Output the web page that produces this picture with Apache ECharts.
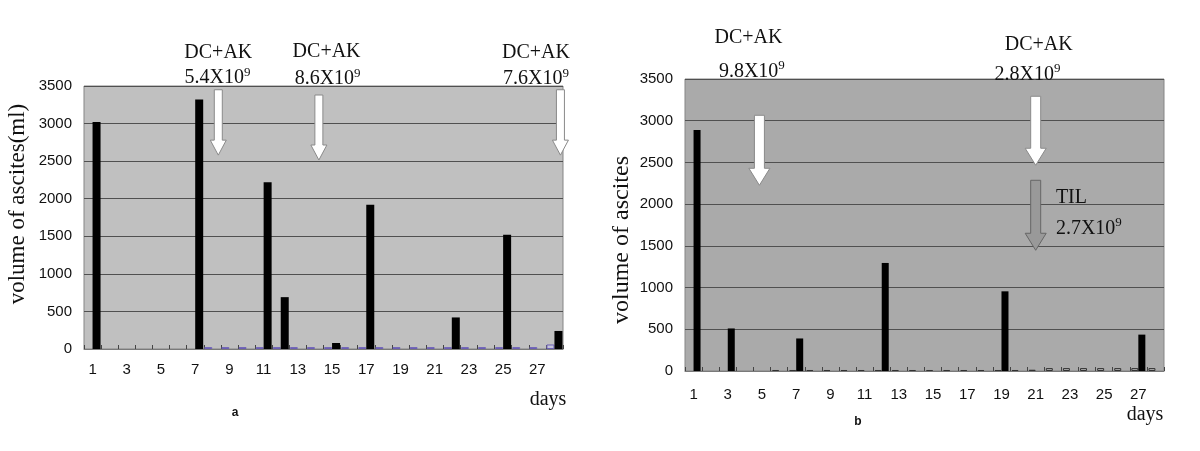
<!DOCTYPE html>
<html><head><meta charset="utf-8">
<script src="https://cdn.jsdelivr.net/npm/echarts@6/dist/echarts.min.js"></script>
<style>html,body{margin:0;padding:0;background:#fff}#c{width:1200px;height:451px}</style>
</head><body><div id="c"></div>
<script>
// ---------- data ----------
const days = ['1','2','3','4','5','6','7','8','9','10','11','12','13','14','15','16','17','18','19','20','21','22','23','24','25','26','27','28'];
const yTicks = [0, 500, 1000, 1500, 2000, 2500, 3000, 3500];

// chart a
const aVolume = [3020,0,0,0,0,0,3320,0,0,0,2220,690,0,0,80,0,1920,0,0,0,0,420,0,0,1520,0,0,240];
const aSmall  = [null,null,null,null,null,null,null,25,25,25,25,25,25,25,25,25,25,25,25,25,25,25,25,25,25,25,25,60];
// chart b
const bVolume = [2890,0,510,0,0,0,390,0,0,0,0,1295,0,0,0,0,0,0,955,0,0,0,0,0,0,0,436,0];
const bSmall  = [null,null,null,null,null,12,12,12,12,12,12,12,12,12,12,12,12,12,12,12,15,35,35,35,35,35,35,35];

// annotations: [day position, volume at arrow top, volume at arrow tip]
const aArrows = [[8.35,3450,2580],[14.23,3380,2515],[28.35,3450,2580]];
const aLabelPos = [[8.35,3955],[8.3,3620],[14.68,3975],[14.74,3610],[26.92,3958],[26.92,3610]];
const aLabelTxt = ['DC+AK','5.4X10|9','DC+AK','8.6X10|9','DC+AK','7.6X10|9'];

const bArrows = [[4.85,3065,2226],[21.0,3293,2466]];
const bTilArrow = [[21.0,2286,1447]];
const bLabelPos = [[4.21,4003],[4.41,3604],[21.18,3928],[20.52,3565]];
const bLabelTxt = ['DC+AK','9.8X10|9','DC+AK','2.8X10|9'];
const bTilPos = [[22.18,2086],[22.18,1722]];
const bTilTxt = ['TIL','2.7X10|9'];

// ---------- chart ----------
const chart = echarts.init(document.getElementById('c'), null, {renderer:'canvas'});
const SERIF = '"Liberation Serif","Times New Roman",serif';
const SANS = '"Liberation Sans",Arial,sans-serif';

function richText(t){
  const p = t.split('|');
  return p.length > 1 ? '{n|' + p[0] + '}{s|' + p[1] + '}' : '{n|' + p[0] + '}';
}
function arrowRender(shaftW, headW, headL, fill, stroke){
  return function(params, api){
    const a = api.coord([api.value(0), api.value(1)]);
    const b = api.coord([api.value(0), api.value(2)]);
    const cx = a[0], y0 = a[1], y1 = b[1], hy = y1 - headL;
    return {type:'polygon', shape:{points:[[cx-shaftW/2,y0],[cx+shaftW/2,y0],[cx+shaftW/2,hy],[cx+headW/2,hy],[cx,y1],[cx-headW/2,hy],[cx-shaftW/2,hy]]},
      style:{fill:fill, stroke:stroke, lineWidth:1}};
  };
}
function textRender(texts, align){
  return function(params, api){
    const p = api.coord([api.value(0), api.value(1)]);
    return {type:'text', x:p[0], y:p[1], style:{
      text: richText(texts[params.dataIndex]), align: align, verticalAlign:'middle',
      rich:{ n:{fontFamily:SERIF, fontSize:20, fill:'#111', lineHeight:22, verticalAlign:'bottom'},
             s:{fontFamily:SERIF, fontSize:13, fill:'#111', lineHeight:22, verticalAlign:'top'} }
    }};
  };
}

function catAxis(gi){
  return {type:'category', gridIndex:gi, data:days,
    axisLine:{show:true, lineStyle:{color:'#7a7a7a', width:1}},
    axisTick:{show:true, inside:true, length:4, interval:0, lineStyle:{color:'#444'}},
    axisLabel:{interval:1, color:'#111', fontFamily:SANS, fontSize:15, margin: gi===0 ? 13 : 16},
    splitLine:{show:false}};
}
function hiddenAxis(gi){
  return {type:'value', gridIndex:gi, min:0.5, max:28.5, show:false, splitLine:{show:false}};
}
function valAxis(gi){
  return {type:'value', gridIndex:gi, min:yTicks[0], max:yTicks[yTicks.length-1], interval:yTicks[1]-yTicks[0],
    axisLine:{show:false}, axisTick:{show:false},
    axisLabel:{color:'#111', fontFamily:SANS, fontSize:15, margin:12, formatter:function(v){return String(v);}},
    splitLine:{show:true, lineStyle:{color:'#505050', width:1}}};
}

const option = {
  animation:false,
  backgroundColor:'#ffffff',
  grid:[
    {left:84, top:86, width:479, height:263, show:true, backgroundColor:'#c0c0c0', borderColor:'#858585', borderWidth:1},
    {left:685, top:79, width:479, height:292, show:true, backgroundColor:'#aaaaaa', borderColor:'#858585', borderWidth:1}
  ],
  xAxis:[catAxis(0), catAxis(1), hiddenAxis(0), hiddenAxis(1)],
  yAxis:[valAxis(0), valAxis(1)],
  series:[
    {type:'bar', xAxisIndex:0, yAxisIndex:0, data:aSmall, barWidth:8, barGap:'0%',
      itemStyle:{color:'#c4c4d8', borderColor:'#6b5fb5', borderWidth:1}},
    {type:'bar', xAxisIndex:0, yAxisIndex:0, data:aVolume, barWidth:8, barGap:'0%',
      itemStyle:{color:'#000000'}},
    {type:'bar', xAxisIndex:1, yAxisIndex:1, data:bSmall, barWidth:7, barGap:'0%',
      itemStyle:{color:'#aaaaaa', borderColor:'#333333', borderWidth:1}},
    {type:'bar', xAxisIndex:1, yAxisIndex:1, data:bVolume, barWidth:7, barGap:'0%',
      itemStyle:{color:'#000000'}},
    {type:'custom', xAxisIndex:2, yAxisIndex:0, data:aArrows, clip:false, z:5,
      renderItem: arrowRender(8, 16, 15, '#ffffff', '#8a8a8a')},
    {type:'custom', xAxisIndex:3, yAxisIndex:1, data:bArrows, clip:false, z:5,
      renderItem: arrowRender(10, 21, 17, '#ffffff', '#8a8a8a')},
    {type:'custom', xAxisIndex:3, yAxisIndex:1, data:bTilArrow, clip:false, z:5,
      renderItem: arrowRender(10, 21, 17, '#999999', '#666666')},
    {type:'custom', xAxisIndex:2, yAxisIndex:0, data:aLabelPos, clip:false, z:6,
      renderItem: textRender(aLabelTxt, 'center')},
    {type:'custom', xAxisIndex:3, yAxisIndex:1, data:bLabelPos, clip:false, z:6,
      renderItem: textRender(bLabelTxt, 'center')},
    {type:'custom', xAxisIndex:3, yAxisIndex:1, data:bTilPos, clip:false, z:6,
      renderItem: textRender(bTilTxt, 'left')}
  ],
  graphic:[
    {type:'text', x:18, y:204, rotation:Math.PI/2, style:{text:'volume of ascites(ml)', font:'23px '+SERIF, fill:'#111', align:'center', verticalAlign:'middle'}},
    {type:'text', x:622, y:240, rotation:Math.PI/2, style:{text:'volume of ascites', font:'24px '+SERIF, fill:'#111', align:'center', verticalAlign:'middle'}},
    {type:'text', x:548, y:400, style:{text:'days', font:'20px '+SERIF, fill:'#111', align:'center', verticalAlign:'middle'}},
    {type:'text', x:1145, y:415, style:{text:'days', font:'20px '+SERIF, fill:'#111', align:'center', verticalAlign:'middle'}},
    {type:'text', x:235, y:413, style:{text:'a', font:'bold 12px '+SANS, fill:'#111', align:'center', verticalAlign:'middle'}},
    {type:'text', x:858, y:422, style:{text:'b', font:'bold 12px '+SANS, fill:'#111', align:'center', verticalAlign:'middle'}}
  ]
};
chart.setOption(option);
</script>
</body></html>
